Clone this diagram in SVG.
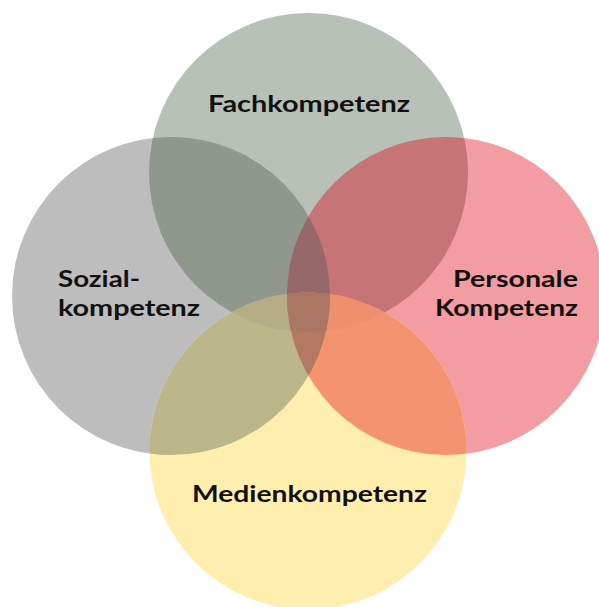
<svg xmlns="http://www.w3.org/2000/svg" width="599" height="607" viewBox="0 0 599 607">
<style>
.lbl{font-family:"Lato","Noto Sans","Liberation Sans",sans-serif;font-weight:700;font-size:23.5px;fill:#111111;}
</style>
<defs>
<clipPath id="cT"><circle cx="308.5" cy="172.5" r="159.5"/></clipPath>
<clipPath id="cL"><circle cx="171" cy="296" r="159"/></clipPath>
<clipPath id="cR"><circle cx="446" cy="296" r="159"/></clipPath>
<clipPath id="cB"><circle cx="308" cy="451" r="158.5"/></clipPath>
</defs>
<rect width="599" height="607" fill="#ffffff"/>
<g id="fachkompetenz">
<circle cx="308.5" cy="172.5" r="159.5" fill="#b7c1b8"/>
<text class="lbl" x="208" y="112" textLength="202" lengthAdjust="spacingAndGlyphs">Fachkompetenz</text>
</g>
<g id="sozialkompetenz">
<circle cx="171" cy="296" r="159" fill="#bdbdbd"/>
<text class="lbl" x="58" y="287" textLength="82" lengthAdjust="spacingAndGlyphs">Sozial-</text>
<text class="lbl" x="58" y="316" textLength="142" lengthAdjust="spacingAndGlyphs">kompetenz</text>
</g>
<g id="personale-kompetenz">
<circle cx="446" cy="296" r="159" fill="#f39ca1"/>
<text class="lbl" x="453" y="287" textLength="125" lengthAdjust="spacingAndGlyphs">Personale</text>
<text class="lbl" x="435" y="316" textLength="143" lengthAdjust="spacingAndGlyphs">Kompetenz</text>
</g>
<g id="medienkompetenz">
<circle cx="308" cy="451" r="158.5" fill="#ffeead"/>
<text class="lbl" x="192" y="502" textLength="235" lengthAdjust="spacingAndGlyphs">Medienkompetenz</text>
</g>
<g id="overlaps">
<g clip-path="url(#cT)"><circle cx="171" cy="296" r="159" fill="#8f978f"/></g>
<g clip-path="url(#cT)"><circle cx="446" cy="296" r="159" fill="#c77476"/></g>
<g clip-path="url(#cB)"><circle cx="171" cy="296" r="159" fill="#bcb68b"/></g>
<g clip-path="url(#cB)"><circle cx="446" cy="296" r="159" fill="#f4936f"/></g>
<g clip-path="url(#cT)"><g clip-path="url(#cR)"><circle cx="171" cy="296" r="159" fill="#976869"/></g></g>
<g clip-path="url(#cT)"><g clip-path="url(#cB)"><circle cx="171" cy="296" r="159" fill="#b4ad86"/></g></g>
<g clip-path="url(#cT)"><g clip-path="url(#cB)"><circle cx="446" cy="296" r="159" fill="#ee8f6e"/></g></g>
<g clip-path="url(#cB)"><g clip-path="url(#cR)"><circle cx="171" cy="296" r="159" fill="#b37962"/></g></g>
<g clip-path="url(#cT)"><g clip-path="url(#cB)"><g clip-path="url(#cR)"><circle cx="171" cy="296" r="159" fill="#ab7664"/></g></g></g>
</g>
</svg>
